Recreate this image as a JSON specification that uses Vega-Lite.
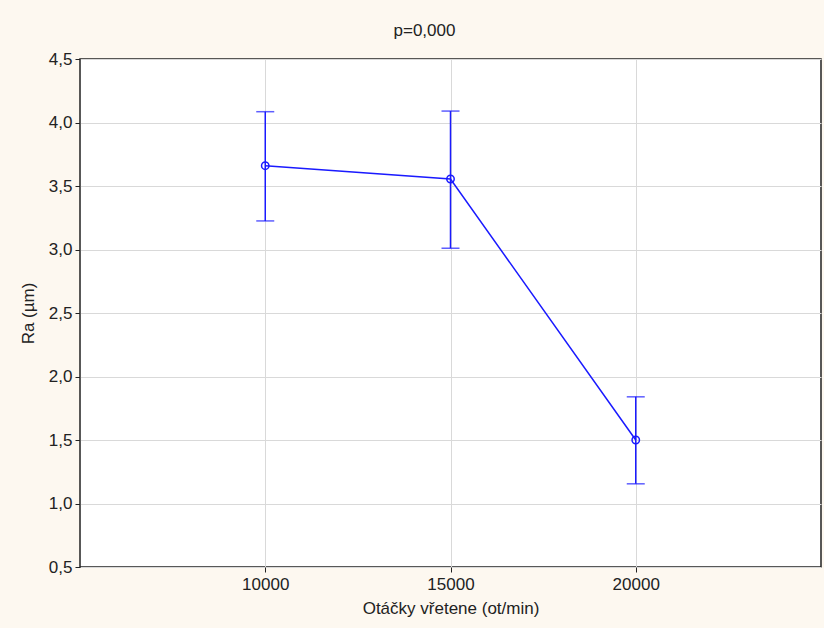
{
  "$schema": "https://vega.github.io/schema/vega-lite/v6.json",
  "autosize": {"type": "none"},
  "width": 741,
  "height": 508,
  "padding": {"left": 80, "top": 59, "right": 3, "bottom": 61},
  "background": "#fdf8f0",
  "title": {"text": "p=0,000", "font": "Liberation Sans", "fontSize": 17, "fontWeight": "normal", "color": "#222", "offset": 10, "dx": -26},
  "data": {"values": [
    {"speed": "10000", "mean": 3.66, "lower": 3.225, "upper": 4.085},
    {"speed": "15000", "mean": 3.555, "lower": 3.01, "upper": 4.09},
    {"speed": "20000", "mean": 1.5, "lower": 1.155, "upper": 1.84}
  ]},
  "config": {
    "view": {"fill": "white", "stroke": "#222", "strokeWidth": 1.5},
    "axis": {"labelFont": "Liberation Sans", "titleFont": "Liberation Sans", "labelFontSize": 17, "titleFontSize": 17, "titleFontWeight": "normal", "labelColor": "#222", "titleColor": "#222", "gridColor": "#d9d9d9", "gridWidth": 1, "tickColor": "#222", "tickSize": 5, "domain": false}
  },
  "encoding": {
    "x": {"field": "speed", "type": "ordinal", "scale": {"type": "point", "padding": 1}, "axis": {"title": "Otáčky vřetene (ot/min)", "labelAngle": 0, "grid": true, "labelPadding": 4, "titlePadding": 8}}
  },
  "layer": [
    {
      "mark": {"type": "rule", "color": "#1a1aff", "strokeWidth": 1.5},
      "encoding": {
        "y": {"field": "lower", "type": "quantitative", "scale": {"domain": [0.5, 4.5], "nice": false, "zero": false}, "axis": {"title": "Ra (µm)", "values": [0.5, 1, 1.5, 2, 2.5, 3, 3.5, 4, 4.5], "labelExpr": "replace(format(datum.value, '.1f'), '.', ',')", "grid": true, "labelPadding": 3, "titlePadding": 11}},
        "y2": {"field": "upper"}
      }
    },
    {
      "mark": {"type": "tick", "color": "#1a1aff", "thickness": 1.5, "size": 18},
      "encoding": {"y": {"field": "upper", "type": "quantitative"}}
    },
    {
      "mark": {"type": "tick", "color": "#1a1aff", "thickness": 1.5, "size": 18},
      "encoding": {"y": {"field": "lower", "type": "quantitative"}}
    },
    {
      "mark": {"type": "line", "color": "#1a1aff", "strokeWidth": 1.5, "point": {"filled": false, "color": "#1a1aff", "size": 55, "strokeWidth": 1.5}},
      "encoding": {"y": {"field": "mean", "type": "quantitative"}}
    }
  ]
}
